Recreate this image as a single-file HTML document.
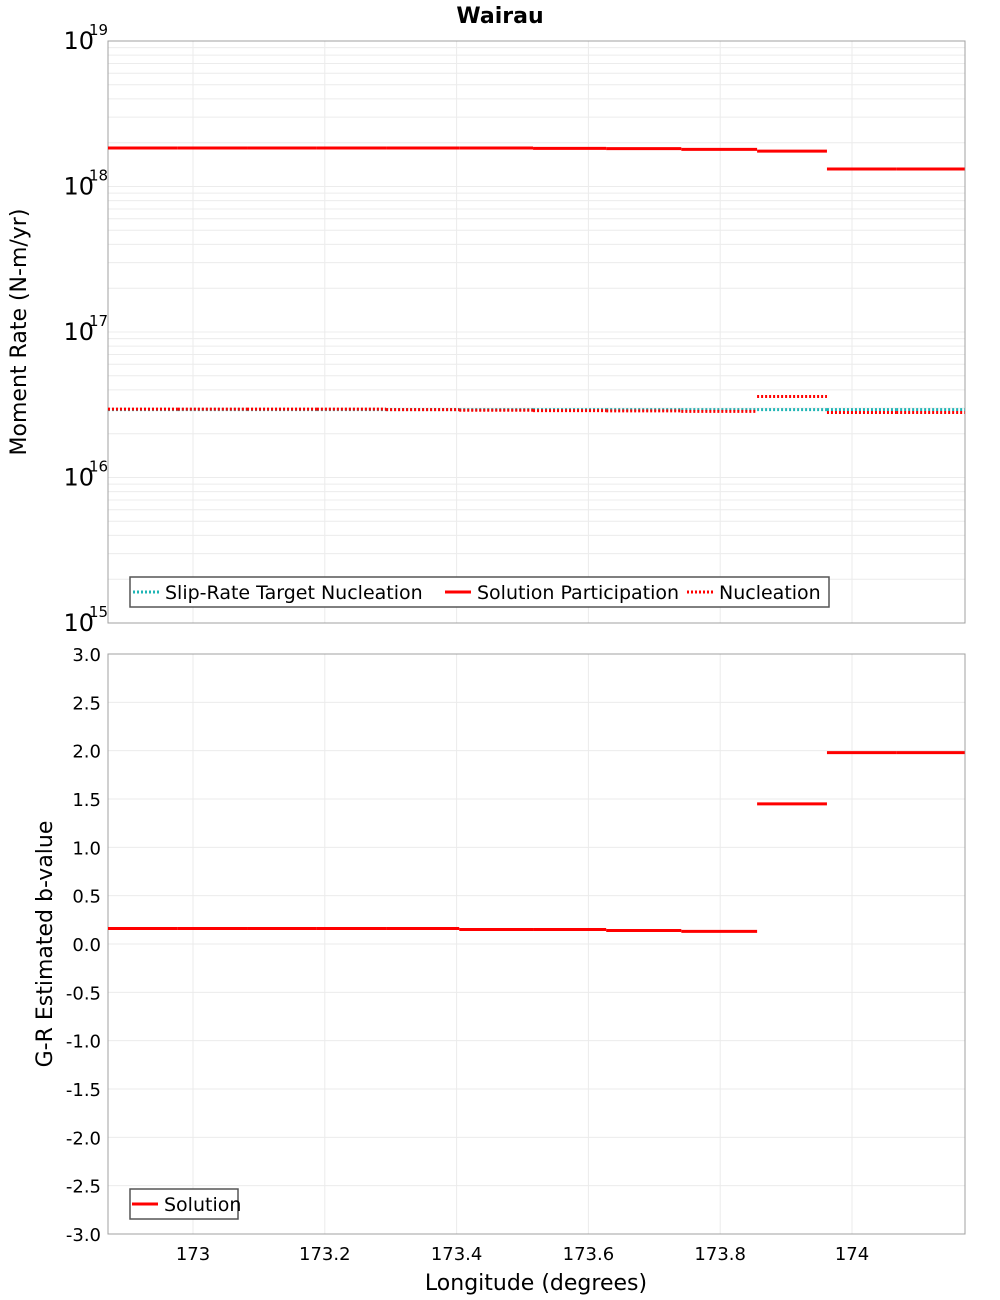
<!DOCTYPE html>
<html><head><meta charset="utf-8">
<style>
html,body{margin:0;padding:0;background:#fff;}
svg{display:block;font-family:"DejaVu Sans","Liberation Sans",sans-serif;}
</style></head>
<body>
<svg id="chart" width="1000" height="1300" viewBox="0 0 1000 1300"></svg>
<script>
// ---- data ----
const segBounds = [172.871,172.977,173.082,173.188,173.293,173.404,173.516,173.627,173.741,173.856,173.962,174.067,174.171];
const targetNucleation = [2.93e16,2.93e16,2.93e16,2.93e16,2.93e16,2.93e16,2.93e16,2.93e16,2.93e16,2.93e16,2.93e16,2.93e16];
const solutionParticipation = [1.84e18,1.84e18,1.84e18,1.84e18,1.84e18,1.84e18,1.83e18,1.82e18,1.80e18,1.75e18,1.32e18,1.32e18];
const solutionNucleation = [2.95e16,2.95e16,2.95e16,2.95e16,2.93e16,2.9e16,2.88e16,2.87e16,2.85e16,3.6e16,2.8e16,2.8e16];
const bValues = [0.16,0.16,0.16,0.16,0.16,0.15,0.15,0.14,0.13,1.45,1.98,1.98];
const xTicks = [173,173.2,173.4,173.6,173.8,174];
const xTickLabels = ["173","173.2","173.4","173.6","173.8","174"];
const logTicks = [15,16,17,18,19];
const bTicks = [-3,-2.5,-2,-1.5,-1,-0.5,0,0.5,1,1.5,2,2.5,3];

// ---- geometry ----
const L=108,R=965, T1=41,B1=623, T2=654,B2=1234;
const X = v => 193 + (v-173)*659;
const Y1 = v => B1 - (Math.log10(v)-15)*(B1-T1)/4;
const Y2 = v => B2 - (v+3)*(B2-T2)/6;
const NS="http://www.w3.org/2000/svg";
const svg=document.getElementById('chart');
function mk(tag,attrs,parent){const e=document.createElementNS(NS,tag);for(const k in attrs)e.setAttribute(k,attrs[k]);(parent||svg).appendChild(e);return e;}

// panels
for (const [t,b,nm] of [[T1,B1,'moment-rate-plot'],[T2,B2,'b-value-plot']]) {
  const g=mk('g',{});
  
  
  for (const v of xTicks) mk('line',{x1:X(v),x2:X(v),y1:t,y2:b,stroke:'#ebebeb','stroke-width':1},g);
}
// top grid (log minor)
const gTop=mk('g',{});


for (let d=15; d<19; d++) for (let m=1;m<10;m++){const y=Y1(m*Math.pow(10,d)); mk('line',{x1:L,x2:R,y1:y,y2:y,stroke:'#ececec','stroke-width':1},gTop);}
// bottom grid
const gBot=mk('g',{});


for (const v of bTicks){const y=Y2(v); mk('line',{x1:L,x2:R,y1:y,y2:y,stroke:'#ebebeb','stroke-width':1},gBot);}

// frames
const f1=mk('rect',{x:L,y:T1,width:R-L,height:B1-T1,fill:'none',stroke:'#a0a0a0','stroke-width':1});


const f2=mk('rect',{x:L,y:T2,width:R-L,height:B2-T2,fill:'none',stroke:'#a0a0a0','stroke-width':1});



// title
const title=mk('text',{x:500,y:23,'text-anchor':'middle','font-size':22,'font-weight':'bold',fill:'#000'});
title.textContent='Wairau';



// log y ticks
for (const d of logTicks){
  const y=Y1(Math.pow(10,d));
  const t=mk('text',{x:94,y:y+8,'text-anchor':'end','font-size':24,fill:'#000'});
  t.textContent='10';
  
  
  const s=mk('text',{x:89,y:y-6,'font-size':15,fill:'#000'});
  s.textContent=String(d);
  
  
}
// b ticks
for (const v of bTicks){
  const t=mk('text',{x:101,y:Y2(v)+7,'text-anchor':'end','font-size':18,fill:'#000'});
  t.textContent=v.toFixed(1);
  
  
}
// x ticks
xTicks.forEach((v,i)=>{
  const t=mk('text',{x:X(v),y:1260,'text-anchor':'middle','font-size':18,fill:'#000'});
  t.textContent=xTickLabels[i];
  
  
});
// axis titles
const xt=mk('text',{x:536,y:1290,'text-anchor':'middle','font-size':22,fill:'#000'});
xt.textContent='Longitude (degrees)';


const yt1=mk('text',{x:0,y:0,'text-anchor':'middle','font-size':22,fill:'#000',transform:'translate(26,332) rotate(-90)'});
yt1.textContent='Moment Rate (N-m/yr)';


const yt2=mk('text',{x:0,y:0,'text-anchor':'middle','font-size':22,fill:'#000',transform:'translate(52,944) rotate(-90)'});
yt2.textContent='G-R Estimated b-value';



// series
function drawSeg(vals,yf,color,dash,name,width){
  const g=mk('g',{});
  
  
  vals.forEach((v,i)=>{
    const a={x1:X(segBounds[i]),x2:X(segBounds[i+1]),y1:yf(v),y2:yf(v),stroke:color,'stroke-width':width};
    if(dash)a['stroke-dasharray']=dash;
    const ln=mk('line',a,g);
    
    
  });
}
drawSeg(solutionParticipation,Y1,'#ff0000',null,'solution-participation-series',3);
drawSeg(targetNucleation,Y1,'#1fb5b5','2,2','slip-rate-target-nucleation-series',3);
drawSeg(solutionNucleation,Y1,'#ff0000','2,2','nucleation-series',3);
drawSeg(bValues,Y2,'#ff0000',null,'b-value-solution-series',3);

// legends
function legend(x,y,w,items,name){
  const g=mk('g',{});
  
  
  mk('rect',{x:x,y:y,width:w,height:30,fill:'#fff',stroke:'#555','stroke-width':1.5},g);
  for(const it of items){
    const a={x1:it.x,x2:it.x+26,y1:y+15,y2:y+15,stroke:it.c,'stroke-width':3};
    if(it.d)a['stroke-dasharray']=it.d;
    mk('line',a,g);
    const t=mk('text',{x:it.x+32,y:y+22,'font-size':19,fill:'#000'},g);
    t.textContent=it.t;
    
    
  }
}
legend(130,577,699,[{x:133,c:'#1fb5b5',d:'2,2',t:'Slip-Rate Target Nucleation'},{x:445,c:'#ff0000',t:'Solution Participation'},{x:687,c:'#ff0000',d:'2,2',t:'Nucleation'}],'moment-rate-legend');
legend(130,1189,108,[{x:132,c:'#ff0000',t:'Solution'}],'b-value-legend');
</script>
</body></html>
